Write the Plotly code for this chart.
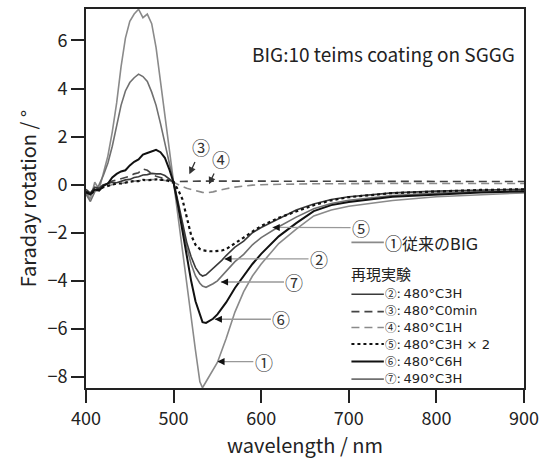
import plotly.graph_objects as go

wavelength = [400, 405, 410, 415, 420, 425, 430, 435, 440, 445, 450, 455, 460, 465, 470, 475, 480, 485, 490, 495, 500,
              505, 510, 515, 520, 525, 530, 533, 537, 541, 545, 550, 555, 560,
              570, 580, 590, 600, 620, 640, 660, 680, 700, 750, 800, 850, 900]

s1 = [-0.3, -0.6, 0.1, -0.2, 0.5, 1.2, 2.2, 3.4, 4.9, 6.1, 6.8, 7.1, 7.3, 6.95, 7.1, 6.7, 5.7, 4.3, 2.7, 1.3, 0.05,
      -1.3, -2.7, -4.1, -5.5, -6.9, -8.2, -8.45, -8.2, -7.95, -7.75, -7.4, -6.9, -6.4,
      -5.3, -4.45, -3.8, -3.3, -2.45, -1.85, -1.3, -1.05, -0.9, -0.66, -0.5, -0.41, -0.34]
s2 = [-0.2, -0.35, -0.1, -0.15, 0.0, 0.05, 0.1, 0.08, 0.15, 0.2, 0.22, 0.3, 0.33, 0.4, 0.42, 0.47, 0.45, 0.45, 0.38, 0.25, 0.1,
      -0.7, -1.6, -2.4, -3.0, -3.45, -3.72, -3.8, -3.75, -3.62, -3.48, -3.3, -3.15, -2.95,
      -2.6, -2.35, -2.0, -1.78, -1.4, -1.05, -0.8, -0.62, -0.5, -0.34, -0.27, -0.22, -0.19]
s3 = [-0.35, -0.4, -0.2, -0.15, 0.0, 0.05, 0.15, 0.2, 0.25, 0.3, 0.35, 0.45, 0.5, 0.65, 0.6, 0.45, 0.35, 0.3, 0.25, 0.18, 0.12,
      0.13, 0.14, 0.15, 0.15, 0.15, 0.15, 0.15, 0.15, 0.15, 0.15, 0.15, 0.15, 0.15,
      0.15, 0.15, 0.15, 0.15, 0.15, 0.15, 0.15, 0.15, 0.14, 0.14, 0.13, 0.13, 0.13]
s4 = [-0.3, -0.45, -0.25, -0.2, -0.1, -0.05, 0.0, 0.05, 0.05, 0.1, 0.12, 0.15, 0.15, 0.18, 0.2, 0.22, 0.22, 0.2, 0.18, 0.15, 0.1,
      0.0, -0.08, -0.15, -0.2, -0.26, -0.3, -0.32, -0.34, -0.33, -0.3, -0.25, -0.2, -0.17,
      -0.1, -0.05, -0.02, 0.0, 0.02, 0.03, 0.04, 0.04, 0.05, 0.05, 0.05, 0.05, 0.05]
s5 = [-0.3, -0.4, -0.25, -0.2, -0.1, -0.05, 0.0, 0.05, 0.05, 0.1, 0.12, 0.15, 0.15, 0.2, 0.18, 0.2, 0.22, 0.2, 0.2, 0.15, 0.08,
      -0.2, -0.6, -1.35, -2.1, -2.5, -2.68, -2.73, -2.76, -2.77, -2.77, -2.76, -2.74, -2.68,
      -2.45, -2.2, -1.95, -1.72, -1.38, -1.1, -0.85, -0.65, -0.52, -0.35, -0.27, -0.22, -0.19]
s6 = [-0.3, -0.4, -0.2, -0.25, -0.05, 0.05, 0.3, 0.45, 0.55, 0.6, 0.8, 0.95, 1.05, 1.25, 1.32, 1.4, 1.45, 1.35, 1.12, 0.65, 0.08,
      -0.85, -1.95, -3.0, -4.0, -4.85, -5.45, -5.72, -5.75, -5.68, -5.58, -5.4, -5.15, -4.9,
      -4.3, -3.8, -3.3, -2.88, -2.15, -1.6, -1.1, -0.85, -0.72, -0.5, -0.4, -0.33, -0.28]
s7 = [-0.4, -0.7, -0.3, 0.0, 0.4, 0.9, 1.6, 2.4, 3.3, 3.9, 4.25, 4.45, 4.6, 4.5, 4.3, 3.85, 3.3, 2.55, 1.75, 0.9, 0.1,
      -0.85, -1.8, -2.6, -3.3, -3.8, -4.1, -4.22, -4.27, -4.2, -4.12, -4.0, -3.8, -3.6,
      -3.2, -2.9, -2.5, -2.2, -1.75, -1.35, -1.0, -0.78, -0.65, -0.45, -0.35, -0.29, -0.25]

x_ticks = [400, 500, 600, 700, 800, 900]
y_ticks = [6, 4, 2, 0, -2, -4, -6, -8]
y_tick_text = ["6", "4", "2", "0", "\u22122", "\u22124", "\u22126", "\u22128"]

circled = ["\u2460", "\u2461", "\u2462", "\u2463", "\u2464", "\u2465", "\u2466"]
legend_texts = ["\u5f93\u6765\u306eBIG", ":\u2009480\u00b0C3H", ":\u2009480\u00b0C0min", ":\u2009480\u00b0C1H",
                ":\u2009480\u00b0C3H \u00d7 2", ":\u2009480\u00b0C6H", ":\u2009490\u00b0C3H"]
legend_header = "\u518d\u73fe\u5b9f\u9a13"

FONT = "Noto Sans CJK JP"
LFONT = "DejaVu Sans, Noto Sans CJK JP"
styles = {
    1: dict(color="#8a8a8a", width=1.6, dash="solid"),
    2: dict(color="#3a3a3a", width=1.6, dash="solid"),
    3: dict(color="#444444", width=1.6, dash="8px,5px"),
    4: dict(color="#8a8a8a", width=1.6, dash="8px,5px"),
    5: dict(color="#111111", width=2.2, dash="3px,3px"),
    6: dict(color="#111111", width=2.0, dash="solid"),
    7: dict(color="#707070", width=1.6, dash="solid"),
}
series = {1: s1, 2: s2, 3: s3, 4: s4, 5: s5, 6: s6, 7: s7}

fig = go.Figure()
for k in [1, 7, 4, 3, 2, 5, 6]:
    fig.add_trace(go.Scatter(x=wavelength, y=series[k], mode="lines", line=styles[k],
                             showlegend=False, hoverinfo="skip"))

annotations = []
shapes = []

# callout labels: (k, tip_x, tip_y, label_x, label_y)
callouts = [
    (5, 613, -1.78, 714, -1.79),
    (2, 558, -3.09, 666, -3.09),
    (7, 554, -4.05, 638, -4.05),
    (6, 547, -5.6, 623, -5.6),
    (1, 550, -7.36, 603, -7.36),
]
for k, tx, ty, lx, ly in callouts:
    annotations.append(dict(x=tx, y=ty, xref="x", yref="y", ax=lx, ay=ly, axref="x", ayref="y",
                            text=circled[k - 1], showarrow=True, arrowhead=0, arrowwidth=1.3,
                            arrowcolor="#999999", font=dict(family=FONT, size=18, color="#333")))
    annotations.append(dict(x=tx, y=ty, xref="x", yref="y", ax=tx + 9, ay=ty, axref="x", ayref="y",
                            text="", showarrow=True, arrowhead=2, arrowsize=1.1, arrowwidth=1.3,
                            arrowcolor="#111111"))
for k, tx, ty, lx, ly in [(3, 518, 0.43, 531.8, 1.55), (4, 540.4, 0.02, 554, 1.07)]:
    annotations.append(dict(x=tx, y=ty, xref="x", yref="y", ax=lx, ay=ly, axref="x", ayref="y",
                            text=circled[k - 1], showarrow=True, arrowhead=2, arrowsize=1.1, arrowwidth=1.3,
                            arrowcolor="#333333", font=dict(family=FONT, size=18, color="#333")))


def circ(k, size):
    return '<span style="font-family:Noto Sans CJK JP;font-size:%.1fpx">%s</span>' % (size, circled[k - 1])


# manual legend: sample lines
rows_y = [-2.40, -4.56, -5.28, -5.94, -6.63, -7.36, -8.09]
for i, k in enumerate([1, 2, 3, 4, 5, 6, 7]):
    st = styles[k]
    shapes.append(dict(type="line", xref="x", yref="y", x0=703, x1=740, y0=rows_y[i], y1=rows_y[i],
                       line=dict(color=st["color"], width=st["width"], dash=st["dash"])))
# legend texts
annotations.append(dict(x=740, y=rows_y[0], xref="x", yref="y", xanchor="left", yanchor="middle",
                        text=circ(1, 17) + legend_texts[0], showarrow=False, borderpad=0,
                        font=dict(family=LFONT, size=16, color="#222")))
annotations.append(dict(x=701, y=-3.70, xref="x", yref="y", xanchor="left", yanchor="middle",
                        text=legend_header, showarrow=False, borderpad=0,
                        font=dict(family=FONT, size=15, color="#222")))
block = "<br>".join(circ(k, 11.5) + legend_texts[k - 1] for k in [2, 3, 4, 5, 6, 7])
annotations.append(dict(x=740, y=(rows_y[3] + rows_y[4]) / 2, xref="x", yref="y", xanchor="left",
                        yanchor="middle", align="left", text=block,
                        showarrow=False, borderpad=0,
                        font=dict(family=LFONT, size=13.1, color="#222")))
annotations.append(dict(x=0.375, y=0.882, xref="paper", yref="paper", xanchor="left", yanchor="middle",
                        text="BIG:10 teims coating on SGGG", showarrow=False,
                        font=dict(family=FONT, size=19, color="#222")))

fig.update_layout(
    width=546, height=459,
    margin=dict(l=86, r=16, t=7, b=71),
    paper_bgcolor="white", plot_bgcolor="white",
    font=dict(family=FONT, size=18, color="#222"),
    annotations=annotations, shapes=shapes,
    showlegend=False,
)
fig.update_xaxes(range=[400, 900], tickvals=x_ticks, ticks="outside", ticklen=13, tickwidth=1.8,
                 tickcolor="#222", showline=True, linecolor="#222", linewidth=1.8, mirror=True,
                 showgrid=False, zeroline=False, tickfont=dict(size=18),
                 title=dict(text="wavelength / nm", font=dict(size=20), standoff=3))
fig.update_yaxes(range=[-8.46, 7.31], tickvals=y_ticks, ticktext=y_tick_text, ticks="outside", ticklen=13,
                 tickwidth=1.8, tickcolor="#222", showline=True, linecolor="#222", linewidth=1.8, mirror=True,
                 showgrid=False, zeroline=False, tickfont=dict(size=18),
                 title=dict(text="Faraday rotation / \u00b0", font=dict(size=20), standoff=6))

fig.write_html("out.html")
